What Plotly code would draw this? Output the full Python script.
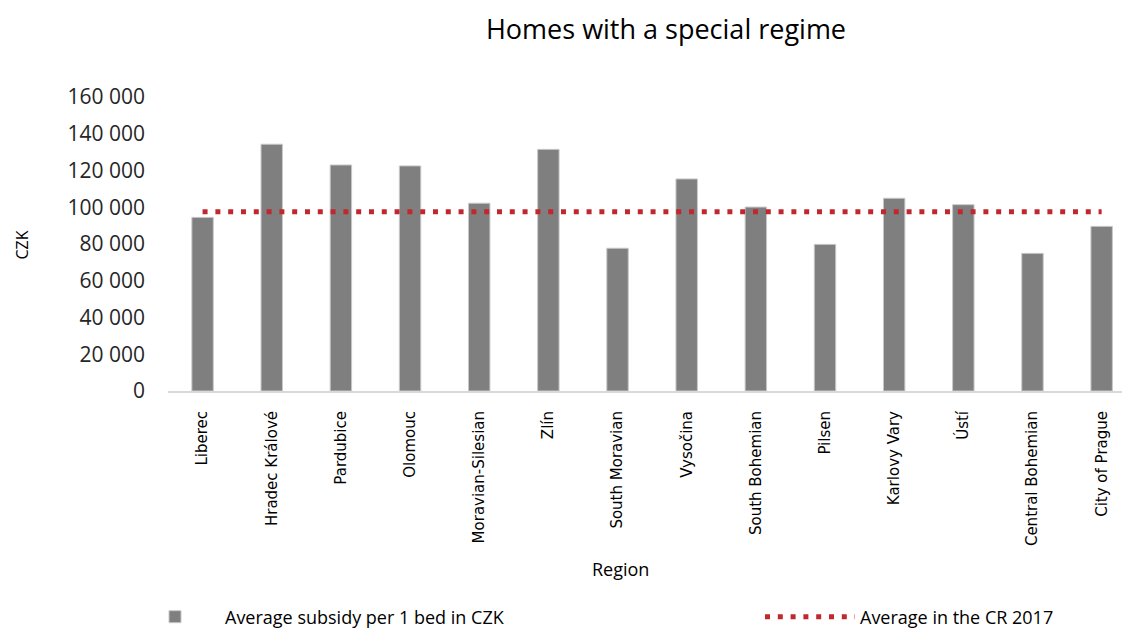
import plotly.graph_objects as go

regions = ["Liberec", "Hradec Králové", "Pardubice", "Olomouc", "Moravian-Silesian",
           "Zlín", "South Moravian", "Vysočina", "South Bohemian", "Pilsen",
           "Karlovy Vary", "Ústí", "Central Bohemian", "City of Prague"]
subsidy = [94500, 134300, 123000, 122500, 102200, 131500, 77700, 115400,
           100100, 79800, 104900, 101400, 74900, 89600]
cr_average = 97600
y_ticks = [0, 20000, 40000, 60000, 80000, 100000, 120000, 140000, 160000]

# page is rendered with an 8px body margin; figure size compensates
W, H = 1122, 620
L, R, T, B = 160, 0, 89, 237
PW = W - L - R
PH = H - T - B

fig = go.Figure()
fig.add_trace(go.Bar(
    x=regions, y=subsidy, name="Average subsidy per 1 bed in CZK",
    marker=dict(color="#7f7f7f", line=dict(color="#c8c8c8", width=1)),
    legend="legend", showlegend=True,
))
fig.add_trace(go.Scatter(
    x=regions, y=[cr_average] * len(regions), mode="lines",
    name="Average in the CR 2017",
    line=dict(color="#c0282f", width=5, dash="5px,7.8px"),
    legend="legend2", showlegend=True,
))

leg_common = dict(
    orientation="h", xanchor="left", xref="container",
    y=(T + PH - 609) / PH, yanchor="middle",
    itemwidth=90,
    font=dict(family="Open Sans", size=18, color="#000000"),
    bgcolor="rgba(0,0,0,0)",
)

fig.update_layout(
    width=W, height=H,
    showlegend=True,
    margin=dict(l=L, r=R, t=T, b=B, autoexpand=False),
    paper_bgcolor="white", plot_bgcolor="white",
    separators=". ",
    bargap=0.69,
    font=dict(family="Open Sans", color="#262626"),
    title=dict(text="Homes with a special regime", x=658 / W, xanchor="center",
               y=1 - 22 / H, yanchor="middle", yref="container",
               font=dict(family="Open Sans", size=27, color="#000000")),
    xaxis=dict(
        range=[-0.5, 13.41], showgrid=False, zeroline=False,
        showline=True, linecolor="#d9d9d9", linewidth=2,
        tickangle=-90, ticks="", ticklabelstandoff=12,
        tickfont=dict(family="DejaVu Sans", size=15, color="#000000"),
        automargin=False,
    ),
    yaxis=dict(
        range=[0, 160000], tickvals=y_ticks, tickformat=",d",
        showgrid=False, zeroline=False, showline=False, ticks="",
        ticklabelstandoff=22,
        tickfont=dict(family="Open Sans", size=21, color="#262626"),
        automargin=False,
    ),
    legend=dict(x=117 / W, **leg_common),
    legend2=dict(x=752 / W, **leg_common),
    annotations=[
        dict(text="CZK", xref="paper", yref="paper",
             x=(13.5 - L) / PW, y=(T + PH - 237) / PH,
             xanchor="center", yanchor="middle", textangle=-90, showarrow=False,
             font=dict(family="Open Sans", size=16, color="#000000")),
        dict(text="Region", xref="paper", yref="paper",
             x=(612 - L) / PW, y=(T + PH - 561) / PH,
             xanchor="center", yanchor="middle", showarrow=False,
             font=dict(family="Open Sans", size=18, color="#000000")),
    ],
)

fig.write_html("out.html")
